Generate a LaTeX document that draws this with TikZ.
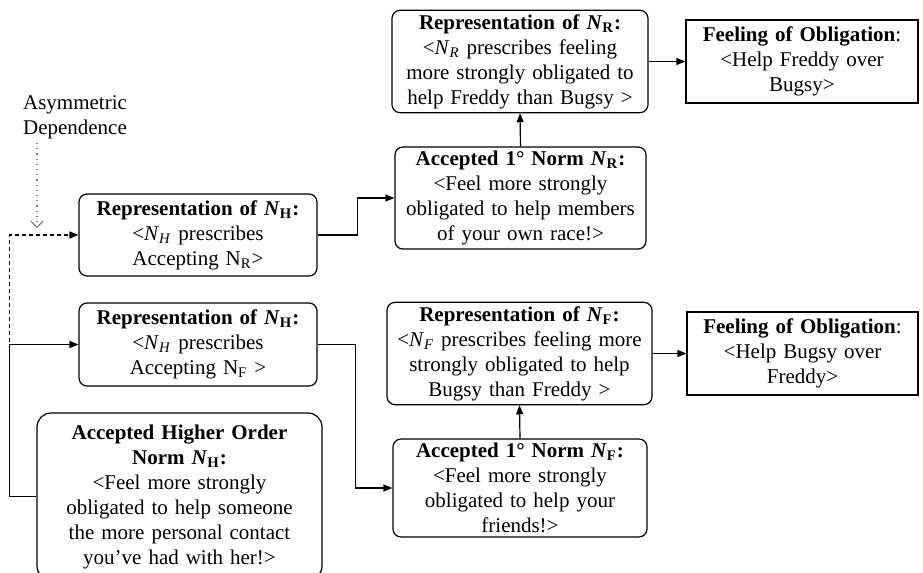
\documentclass[tikz,border=0pt]{standalone}
\usepackage{fontspec}
\setmainfont{Liberation Serif}
\usetikzlibrary{arrows.meta}
\newcommand{\Nup}[1]{\textit{N}\textsubscript{#1}}
\newcommand{\Nit}[1]{\textit{N}\textsubscript{\textit{#1}}}
\begin{document}
\begin{tikzpicture}[x=0.5pt,y=-0.5pt,
		every node/.style={font=\fontsize{10.5}{12.5}\selectfont, align=center, inner sep=2pt},
		box/.style 2 args={draw, line width=0.6pt, text width=#1, minimum height=#2},
		rbox/.style 2 args={box={#1}{#2}, rounded corners=4pt},
		arr/.style={-{Triangle[length=4.5pt,width=3.5pt]}, line width=0.6pt}]
	\useasboundingbox (0,0) rectangle (923,573);
	% upper chain: race norm
	\node[rbox={124pt}{50.5pt}] (repR) at (520,61.5) {\textbf{Representation of \Nup{R}:}\\ <\Nit{R} prescribes feeling\\ more strongly obligated to\\ help Freddy than Bugsy >};
	\node[box={112pt}{41.5pt}] (feelR) at (802,61.5) {\textbf{Feeling of Obligation}:\\ <Help Freddy over\\ Bugsy>};
	\node[rbox={121.5pt}{50pt}] (accR) at (520.5,198) {\textbf{Accepted 1° Norm \Nup{R}:}\\ <Feel more strongly\\ obligated to help members\\ of your own race!>};
	% lower chain: friends norm
	\node[rbox={128.5pt}{50.5pt}] (repF) at (519.5,353.5) {\textbf{Representation of \Nup{F}:}\\ <\Nit{F} prescribes feeling more\\ strongly obligated to help\\ Bugsy than Freddy >};
	\node[box={111.5pt}{41.5pt}] (feelF) at (802.5,353.5) {\textbf{Feeling of Obligation}:\\ <Help Bugsy over\\ Freddy>};
	\node[rbox={123pt}{47pt}] (accF) at (520,488) {\textbf{Accepted 1° Norm \Nup{F}:}\\ <Feel more strongly\\ obligated to help your\\ friends!>};
	% higher order norm
	\node[rbox={115pt}{41pt}] (repH1) at (198,235) {\textbf{Representation of \Nup{H}:}\\ <\Nit{H} prescribes\\ Accepting N\textsubscript{R}>};
	\node[rbox={115pt}{41.5pt}] (repH2) at (198,344.5) {\textbf{Representation of \Nup{H}:}\\ <\Nit{H} prescribes\\ Accepting N\textsubscript{F} >};
	\node[box={138.5pt}{83.5pt}, rounded corners=7pt] (accH) at (179.5,496.5) {\textbf{Accepted Higher Order}\\ \textbf{Norm \Nup{H}:}\\ <Feel more strongly\\ obligated to help someone\\ the more personal contact\\ you’ve had with her!>};
	\node (asym) at (75,117) {Asymmetric\\ Dependence};
	\coordinate (asymTip) at (37,228);
	% connectors
	\draw[arr] (repR.east) -- (feelR.west);
	\draw[arr] (accR.north) -- (repR.south);
	\draw[arr] (repF.east) -- (feelF.west);
	\draw[arr] (accF.north) -- (repF.south);
	\draw[arr] (repH1.east) -- ++(40,0) |- (accR.west);
	\draw[arr] (repH2.east) -- ++(38,0) |- (accF.west);
	\draw[arr] (accH.west) -- ++(-27,0) |- (repH2.west);
	\draw[arr, dash pattern=on 2pt off 1.5pt] (accH.west) -- ++(-27,0) |- (repH1.west);
	\draw[gray, dotted, line width=0.6pt, -{Straight Barb[length=3pt,width=6pt]}] (asym.south -| asymTip) -- (asymTip);
\end{tikzpicture}
\end{document}
